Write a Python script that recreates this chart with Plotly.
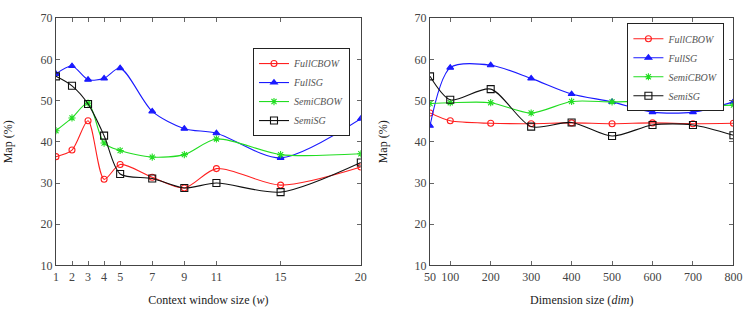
import plotly.graph_objects as go

# Left panel: context window size
w_vals = [1, 2, 3, 4, 5, 7, 9, 11, 15, 20]
w_full_cbow = [36.4, 38.0, 45.1, 30.9, 34.5, 31.4, 28.8, 33.5, 29.5, 33.9]
w_full_sg = [56.5, 58.4, 55.1, 55.4, 57.9, 47.4, 43.2, 42.1, 36.1, 45.6]
w_semi_cbow = [42.7, 45.8, 49.4, 39.7, 37.9, 36.3, 36.9, 40.7, 36.9, 37.1]
w_semi_sg = [55.9, 53.6, 49.2, 41.5, 32.2, 31.1, 28.8, 30.0, 27.8, 35.0]

# Right panel: dimension size
d_vals = [50, 100, 200, 300, 400, 500, 600, 700, 800]
d_full_cbow = [47.0, 45.1, 44.5, 44.4, 44.6, 44.4, 44.6, 44.4, 44.5]
d_full_sg = [43.9, 58.0, 58.6, 55.4, 51.6, 49.7, 47.2, 47.2, 49.7]
d_semi_cbow = [49.3, 49.5, 49.5, 47.0, 49.8, 49.7, 49.8, 48.8, 48.9]
d_semi_sg = [55.9, 50.2, 52.8, 43.7, 44.7, 41.4, 44.1, 44.1, 41.6]

names = ["FullCBOW", "FullSG", "SemiCBOW", "SemiSG"]
y_ticks = [10, 20, 30, 40, 50, 60, 70]

styles = [
    dict(color="#ff2020", symbol="circle-open", size=6),
    dict(color="#1a1aff", symbol="triangle-up", size=6),
    dict(color="#22dd22", symbol="asterisk-open", size=6),
    dict(color="#111111", symbol="square-open", size=7),
]

FONT = "Liberation Serif"
fig = go.Figure()

for i, (ys, st) in enumerate(zip([w_full_cbow, w_full_sg, w_semi_cbow, w_semi_sg], styles)):
    fig.add_trace(go.Scatter(
        x=w_vals, y=ys, mode="lines+markers", name="<i>" + names[i] + "</i>",
        line=dict(color=st["color"], width=1.1, shape="spline", smoothing=0.8),
        marker=dict(color=st["color"], symbol=st["symbol"], size=st["size"],
                    line=dict(color=st["color"], width=1.1)),
        xaxis="x", yaxis="y", legend="legend"))

for i, (ys, st) in enumerate(zip([d_full_cbow, d_full_sg, d_semi_cbow, d_semi_sg], styles)):
    fig.add_trace(go.Scatter(
        x=d_vals, y=ys, mode="lines+markers", name="<i>" + names[i] + "</i>",
        line=dict(color=st["color"], width=1.1, shape="spline", smoothing=0.8),
        marker=dict(color=st["color"], symbol=st["symbol"], size=st["size"],
                    line=dict(color=st["color"], width=1.1)),
        xaxis="x2", yaxis="y2", legend="legend2"))

axis_common = dict(showline=True, linecolor="#444", linewidth=1, mirror="ticks",
                   ticks="inside", ticklen=4, tickcolor="#666", showgrid=False,
                   zeroline=False, tickfont=dict(family=FONT, size=12, color="#444"))

ydom = [0.127, 0.962]
title_font = dict(family=FONT, size=12, color="#222")
fig.update_layout(
    width=755, height=310, margin=dict(l=0, r=0, t=0, b=0),
    paper_bgcolor="white", plot_bgcolor="white",
    font=dict(family=FONT, color="#222"),
    xaxis=dict(domain=[0.0675, 0.4795], range=[1, 20], tickvals=w_vals,
               title=dict(text="Context window size (<i>w</i>)", font=title_font, standoff=12),
               **axis_common),
    yaxis=dict(domain=ydom, range=[10, 70], tickvals=y_ticks,
               title=dict(text="Map (%)", font=title_font, standoff=25),
               **axis_common),
    xaxis2=dict(domain=[0.573, 0.983], range=[50, 800], tickvals=d_vals, anchor="y2",
                title=dict(text="Dimension size (<i>dim</i>)", font=title_font, standoff=12),
                **axis_common),
    yaxis2=dict(domain=ydom, range=[10, 70], tickvals=y_ticks, anchor="x2",
                title=dict(text="Map (%)", font=title_font, standoff=24),
                **axis_common),
    legend=dict(x=252/755, y=1 - 43/310, xanchor="left", yanchor="top",
                bordercolor="#222", borderwidth=1, bgcolor="white",
                font=dict(family=FONT, size=10, color="#555"), tracegroupgap=0,
                itemwidth=30),
    legend2=dict(x=634/755, y=1 - 17/310, xanchor="left", yanchor="top",
                 bordercolor="#222", borderwidth=1, bgcolor="white",
                 font=dict(family=FONT, size=10, color="#555"), tracegroupgap=0,
                 itemwidth=30),
)

fig.write_html("out.html")
